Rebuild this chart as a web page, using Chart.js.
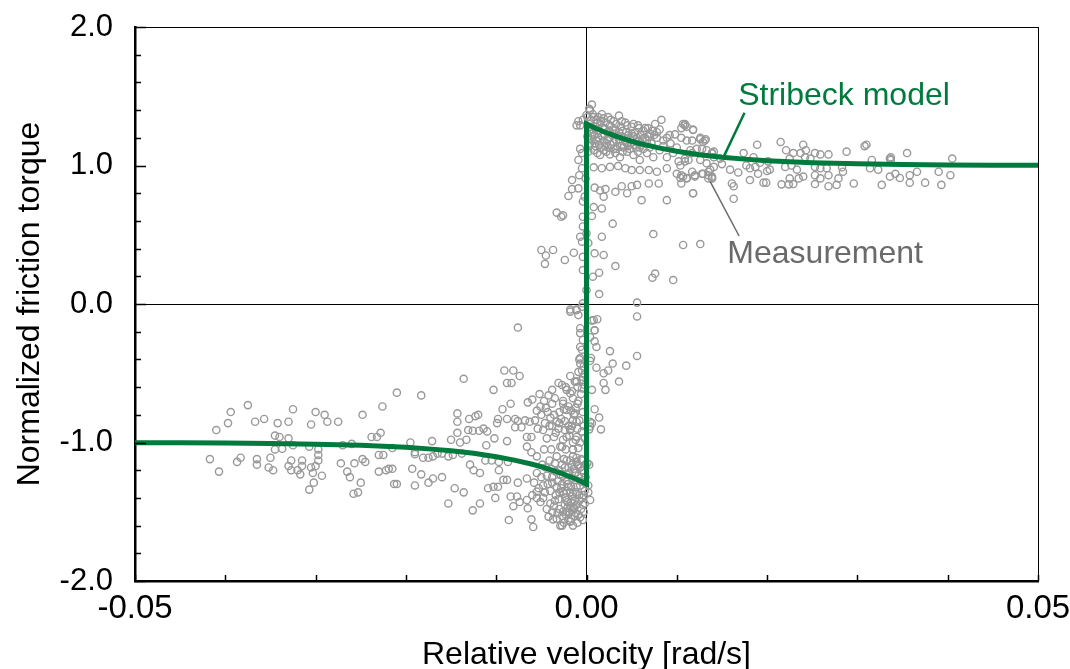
<!DOCTYPE html>
<html>
<head>
<meta charset="utf-8">
<script src="https://cdn.jsdelivr.net/npm/chart.js@4.4.1/dist/chart.umd.min.js"></script>
<style>
  html, body { margin: 0; padding: 0; background: #fff; }
  #wrap { width: 1070px; height: 669px; }
</style>
</head>
<body>
<div id="wrap"><canvas id="myChart" width="1070" height="669"></canvas></div>
<script>
// Stribeck model curve (velocity, torque)
const modelX = [-0.050, -0.045, -0.040, -0.035, -0.030, -0.025, -0.020, -0.0175, -0.015, -0.0125, -0.010, -0.008, -0.006, -0.005, -0.004, -0.003, -0.002, -0.001, 0,
                0, 0.001, 0.002, 0.003, 0.004, 0.005, 0.006, 0.008, 0.010, 0.0125, 0.015, 0.0175, 0.020, 0.025, 0.030, 0.035, 0.040, 0.045, 0.050];
const modelY = [-1.001, -1.002, -1.004, -1.007, -1.012, -1.020, -1.035, -1.046, -1.060, -1.078, -1.103, -1.127, -1.157, -1.175, -1.195, -1.217, -1.242, -1.269, -1.300,
                1.300, 1.269, 1.242, 1.217, 1.195, 1.175, 1.157, 1.127, 1.103, 1.078, 1.060, 1.046, 1.035, 1.020, 1.012, 1.007, 1.004, 1.002, 1.001];

// measured points, negative velocity tail
const measLeftTail = [[-0.0210,-0.64],[-0.0226,-0.74],[-0.0248,-0.80],[-0.0375,-0.73],[-0.0394,-0.78],[-0.0397,-0.86],[-0.0410,-0.91],[-0.0325,-0.76],[-0.0300,-0.78],[-0.0290,-0.80],[-0.0287,-0.85],[-0.0275,-0.85],[-0.0305,-0.87],[-0.0330,-0.85],[-0.0342,-0.86],[-0.0357,-0.83],[-0.0367,-0.85],[-0.0345,-0.95],[-0.0340,-0.96],[-0.0330,-0.97],[-0.0228,-0.93],[-0.0238,-0.96],[-0.0232,-0.96],[-0.0417,-1.12],[-0.0407,-1.21],[-0.0387,-1.14],[-0.0383,-1.11],[-0.0365,-1.12],[-0.0365,-1.16],[-0.0352,-1.18],[-0.0347,-1.20],[-0.0350,-1.11],[-0.0345,-1.05],[-0.0337,-1.045],[-0.0327,-1.13],[-0.0330,-1.17],[-0.0327,-1.20],[-0.0315,-1.13],[-0.0315,-1.17],[-0.0320,-1.20],[-0.0317,-1.23],[-0.0307,-1.03],[-0.0297,-1.05],[-0.0297,-1.09],[-0.0297,-1.13],[-0.0300,-1.17],[-0.0305,-1.18],[-0.0303,-1.22],[-0.0302,-1.29],[-0.0307,-1.34],[-0.0293,-1.24],[-0.0272,-1.15],[-0.0265,-1.21],[-0.0262,-1.25],[-0.0257,-1.15],[-0.0248,-1.12],[-0.0245,-1.14],[-0.0250,-1.29],[-0.0258,-1.37],[-0.0253,-1.36],[-0.0230,-1.09],[-0.0225,-1.09],[-0.0230,-1.21],[-0.0222,-1.20],[-0.0219,-1.19],[-0.0215,-1.19],[-0.0213,-1.30],[-0.0210,-1.30],[-0.0215,-1.04],[-0.0270,-1.02],[-0.0260,-1.01],[-0.0325,-1.02]];

// measured points, negative velocity near zero
const measLeftNear = [[-0.0183,-0.66],[-0.0136,-0.54],[-0.0103,-0.62],[-0.0091,-0.48],[-0.0081,-0.48],[-0.0074,-0.52],[-0.0088,-0.57],[-0.0083,-0.57],[-0.0065,-0.71],[-0.0060,-0.69],[-0.0052,-0.65],[-0.0042,-0.66],[-0.0038,-0.62],[-0.0031,-0.57],[-0.0023,-0.60],[-0.0016,-0.63],[-0.0013,-0.56],[-0.0002,-0.51],[-0.0084,-0.72],[-0.0093,-0.76],[-0.0098,-0.83],[-0.0099,-0.86],[-0.0088,-0.83],[-0.0079,-0.83],[-0.0076,-0.845],[-0.0068,-0.84],[-0.0063,-0.85],[-0.0055,-0.77],[-0.0051,-0.74],[-0.0143,-0.79],[-0.0143,-0.85],[-0.0143,-0.93],[-0.0130,-0.83],[-0.0123,-0.81],[-0.0120,-0.80],[-0.0131,-0.91],[-0.0126,-0.915],[-0.0119,-0.915],[-0.0114,-0.90],[-0.0110,-0.92],[-0.0150,-0.98],[-0.0140,-1.00],[-0.0133,-0.98],[-0.0171,-0.99],[-0.0195,-1.00],[-0.0111,-1.02],[-0.0102,-0.97],[-0.0088,-0.99],[-0.0079,-0.89],[-0.0072,-0.89],[-0.0066,-0.96],[-0.0061,-0.96],[-0.0054,-0.90],[-0.0048,-0.91],[-0.0041,-0.88],[-0.0036,-0.96],[-0.0031,-0.90],[-0.0024,-0.845],[-0.0018,-0.905],[-0.0011,-0.85],[-0.0005,-0.92],[0.0003,-0.905],[0.0006,-0.86],
  [-0.0190,-1.07],[-0.0190,-1.085],[-0.0181,-1.11],[-0.0175,-1.11],[-0.0170,-1.10],[-0.0165,-1.08],[-0.0160,-1.08],[-0.0153,-1.10],[-0.0148,-1.09],[-0.0138,-1.08],[-0.0193,-1.19],[-0.0183,-1.23],[-0.0190,-1.31],[-0.0175,-1.29],[-0.0170,-1.26],[-0.0160,-1.25],[-0.0129,-1.16],[-0.0125,-1.20],[-0.0118,-1.22],[-0.0112,-1.13],[-0.0105,-1.13],[-0.0097,-1.14],[-0.0097,-1.20],[-0.0087,-1.14],[-0.0066,-1.03],[-0.0061,-1.07],[-0.0055,-1.10],[-0.0047,-1.05],[-0.0039,-1.05],[-0.0029,-1.03],[-0.0023,-1.05],[-0.0015,-1.05],
  [-0.0146,-1.33],[-0.0136,-1.36],[-0.0153,-1.44],[-0.0118,-1.44],[-0.0126,-1.49],[-0.0109,-1.33],[-0.0103,-1.32],[-0.0098,-1.32],[-0.0092,-1.27],[-0.0088,-1.27],[-0.0076,-1.29],[-0.0066,-1.26],[-0.0101,-1.40],[-0.0084,-1.39],[-0.0077,-1.39],[-0.0074,-1.43],[-0.0081,-1.46],[-0.0066,-1.415],[-0.0065,-1.475],[-0.0055,-1.355],[-0.0055,-1.40],[-0.0051,-1.43],[-0.0086,-1.56],[-0.0061,-1.555],[-0.0059,-1.61],[-0.0042,-1.535],[-0.0037,-1.555],[-0.0029,-1.60],[-0.0018,-1.57],[-0.0015,-1.475],[-0.0012,-1.51],
  [-0.0035,-1.15],[-0.0030,-1.20],[-0.0025,-1.12],[-0.0020,-1.18],[-0.0015,-1.10],[-0.0010,-1.16],[-0.0005,-1.13],[-0.0038,-1.25],[-0.0032,-1.28],[-0.0026,-1.24],[-0.0021,-1.30],[-0.0016,-1.26],[-0.0011,-1.32],[-0.0006,-1.28],[-0.0003,-1.22],[-0.0040,-1.35],[-0.0034,-1.38],[-0.0028,-1.33],[-0.0023,-1.40],[-0.0018,-1.36],[-0.0013,-1.42],[-0.0008,-1.38],[-0.0004,-1.45],[-0.0036,-1.46],[-0.0030,-1.48],[-0.0024,-1.45],[-0.0019,-1.50],[-0.0014,-1.47],[-0.0009,-1.52],[-0.0005,-1.40],[-0.0027,-1.53],[-0.0020,-1.56],[-0.0010,-1.58],[-0.0045,-1.18],[-0.0043,-1.30],[-0.0050,-1.25],[-0.0048,-1.40],[-0.0044,-1.48],[-0.0053,-1.33],[-0.0033,-1.10],[-0.0002,-1.35],[-0.0001,-1.25],[-0.0003,-1.50],[-0.0012,-1.22],[-0.0022,-1.35],[-0.0031,-1.41],[-0.0017,-1.43],[-0.0007,-1.18],
  [-0.0045,-0.75],[-0.0038,-0.72],[-0.0030,-0.78],[-0.0026,-0.70],[-0.0020,-0.74],[-0.0015,-0.68],[-0.0010,-0.72],[-0.0006,-0.65],[-0.0004,-0.78],[-0.0040,-0.82],[-0.0033,-0.85],[-0.0028,-0.83],[-0.0020,-0.88],[-0.0014,-0.80],[-0.0008,-0.84],[-0.0003,-0.88],[-0.0019,-0.95],[-0.0012,-0.98],[-0.0007,-1.00],[-0.0002,-0.97],[-0.0010,-0.60],[-0.0005,-0.55],[-0.0003,-0.45],[-0.0008,-0.40],[-0.0018,-0.52]];

// extra points in the dense cluster below the model's lower corner
const measDenseLower = [[-0.0004,-1.20],[-0.0009,-1.24],[-0.0014,-1.19],[-0.0019,-1.22],[-0.0024,-1.18],[-0.0029,-1.23],[-0.0034,-1.21],[-0.0039,-1.19],[-0.0002,-1.29],[-0.0007,-1.31],[-0.0012,-1.27],[-0.0017,-1.32],[-0.0022,-1.28],[-0.0027,-1.30],[-0.0033,-1.32],[-0.0038,-1.29],[-0.0044,-1.24],[-0.0003,-1.38],[-0.0008,-1.42],[-0.0012,-1.36],[-0.0016,-1.39],[-0.0021,-1.43],[-0.0025,-1.37],[-0.0030,-1.36],[-0.0035,-1.42],[-0.0040,-1.44],[-0.0046,-1.36],[-0.0002,-1.44],[-0.0006,-1.48],[-0.0011,-1.45],[-0.0016,-1.49],[-0.0021,-1.47],[-0.0026,-1.50],[-0.0032,-1.51],[-0.0038,-1.50],[-0.0007,-1.54],[-0.0013,-1.53],[-0.0017,-1.55],[-0.0023,-1.52],[-0.0033,-1.55],[-0.0004,-1.56],[-0.0015,-1.60],[-0.0025,-1.58],[-0.0001,-1.16],[-0.0006,-1.12],[-0.0011,-1.14],[-0.0016,-1.16],[-0.0022,-1.13],[-0.0027,-1.16],[-0.0041,-1.13],[-0.0049,-1.16],[-0.0055,-1.22],[-0.0058,-1.29],[-0.0060,-1.38],[-0.0048,-1.31],
  [-0.0050,-0.80],[-0.0043,-0.78],[-0.0036,-0.80],[-0.0025,-0.76],[-0.0017,-0.77],[-0.0012,-0.75],[-0.0046,-0.86],[-0.0038,-0.88],[-0.0030,-0.86],[-0.0024,-0.91],[-0.0016,-0.88],[-0.0010,-0.90],[-0.0034,-0.93],[-0.0026,-0.98],[-0.0015,-1.00],[-0.0044,-0.97],[-0.0057,-0.84],[-0.0009,-0.70],[-0.0035,-0.68],[-0.0047,-0.70]];

// measured points around the jump at zero velocity
const measZero = [[0.0056,0.01],[0.0056,-0.09],[0.0056,-0.375],[-0.0018,-0.055],[-0.0011,-0.045],[-0.0009,-0.08],[-0.0005,-0.02],[0.0006,-0.12],[0.0012,-0.11],[0.0009,-0.19],[0.0004,-0.24],[0.0009,-0.27],[0.0011,-0.31],[0.0005,-0.39],[0.0004,-0.41],[0.0011,-0.46],[0.0019,-0.50],[0.0024,-0.48],[0.0026,-0.34],[0.0029,-0.43],[0.0044,-0.445],[0.0036,-0.56],[0.0019,-0.57],[0.0021,-0.62],[0.0006,-0.62],[0.0009,-0.76],[0.0014,-0.82],[0.0016,-0.905],[0.0004,-0.85],[0.0004,-0.885],
  [-0.0007,-0.31],[-0.0007,-0.39],[-0.0005,-0.48],[-0.0011,-0.56],[-0.0022,-0.62],[-0.0018,-0.645],[-0.0027,-0.585],[-0.0026,-0.72],[-0.0022,-0.765],[-0.0013,-0.79],[-0.0015,-0.84],[-0.0018,-0.91],[-0.0022,-0.96],[-0.0011,-0.96],[-0.0009,-1.04],[-0.0015,-1.05],[-0.0027,-1.03],[-0.0018,-1.13],[-0.0011,-1.11],[-0.0009,-1.17],[-0.0013,-1.22],[-0.0022,-1.23],[-0.0020,-1.32],[-0.0026,-1.355],[-0.0015,-1.37],[-0.0022,-1.415],[-0.0018,-1.46],[-0.0022,-1.50],[-0.0018,-1.57],[-0.0027,-1.60],
  [0.0002,-1.31],[0.0002,-1.36],[0.0004,-1.415],[0.0001,-1.15],[0.0003,-1.16],
  [-0.0007,-0.175],[-0.0007,-0.21],[-0.0004,-0.26],[-0.0005,-0.33],[-0.0007,-0.43],[-0.0009,-0.49],[-0.0004,-0.525],[-0.0011,-0.56],[-0.0002,-0.585],[-0.0005,-0.61],
  [-0.0016,0.895],[-0.0009,0.835],[-0.0001,0.907],[0.0009,0.84],[0.0015,0.82],[0.0019,0.775],[0.0021,0.83],[0.0032,0.81],[0.0039,0.85],[0.0045,0.80],[0.0050,0.85],[0.0056,0.86],[0.0061,0.75],[0.0069,0.87],[0.0080,0.87],[0.0089,0.75],[0.0118,0.80],[-0.0004,0.74],[0.0008,0.70],[0.0006,0.635],[0.0017,0.69],[0.0029,0.58],[-0.0004,0.56],[-0.0007,0.486],[0.0002,0.44],[0.0017,0.486],[0.0009,0.366],[0.0019,0.354],[0.0032,0.274],[-0.0024,0.318],[-0.0028,0.63],[-0.0005,0.45],[0.0000,0.51],[-0.0004,0.34],[-0.0004,0.245],[0.0007,0.197],[0.0014,0.226],[0.0014,0.072],[0.0074,0.505],[0.0076,0.22],[0.0073,0.19],[0.0096,0.173],[0.0107,0.426],[0.0126,0.433],[0.0008,-0.115],[0.0009,-0.19],
  [-0.0050,0.39],[-0.0045,0.35],[-0.0037,0.39],[-0.0046,0.29],[-0.0033,0.66],[-0.0026,0.64],[-0.0076,-0.17],[-0.0016,0.83],[-0.0020,0.78],[-0.0014,0.37],
  [-0.0007,1.12],[-0.0005,1.09],[-0.0009,1.04],[-0.0005,0.98],[-0.0008,0.93],[-0.0002,0.775],[-0.0004,0.63],[0.0000,0.10],[-0.0004,0.005],[-0.0011,-0.04],[-0.0018,-0.04]];

// measured points, positive velocity near zero
const measRightNear = [[0.0006,1.44],[0.0004,1.40],[0.0000,1.365],[-0.0004,1.33],[-0.0009,1.32],[-0.0011,1.29],[-0.0007,1.29],[0.0008,1.35],[0.0013,1.35],[0.0019,1.34],[0.0024,1.35],[0.0030,1.32],[0.0036,1.36],[0.0043,1.31],[0.0050,1.28],[0.0057,1.29],[0.0065,1.27],[0.0070,1.23],[0.0076,1.30],[0.0083,1.33],[0.0078,1.24],[0.0081,1.26],[0.0089,1.20],[0.0098,1.225],[0.0107,1.30],[0.0109,1.29],[0.0118,1.26],[0.0105,1.20],[0.0111,1.18],[0.0117,1.18],[0.0126,1.20],[0.0129,1.17],[0.0132,1.19],[0.0139,1.09],
  [0.0006,1.23],[0.0011,1.18],[0.0017,1.21],[0.0022,1.16],[0.0028,1.22],[0.0033,1.18],[0.0039,1.21],[0.0045,1.16],[0.0050,1.23],[0.0056,1.20],[0.0061,1.15],[0.0067,1.18],[0.0072,1.16],[0.0078,1.20],[0.0008,1.11],[0.0015,1.076],[0.0022,1.10],[0.0030,1.12],[0.0037,1.06],[0.0045,1.10],[0.0052,1.076],[0.0059,1.04],[0.0067,1.09],[0.0074,1.06],[0.0081,1.11],[0.0089,1.06],[0.0096,1.09],[0.0102,1.03],[0.0109,1.05],[0.0117,1.09],[0.0126,1.04],[0.0133,1.016],[0.0141,1.06],[0.0148,1.05],
  [0.0008,0.987],[0.0017,0.98],[0.0026,0.99],[0.0035,0.996],[0.0043,0.98],[0.0050,0.967],[0.0059,0.967],[0.0069,0.967],[0.0078,0.955],[0.0089,0.98],[0.0100,0.94],[0.0105,0.93],[0.0111,0.91],[0.0105,0.87],[0.0104,0.91],[0.0117,0.955],[0.0120,0.93],[0.0129,0.94],[0.0139,0.92],[0.0135,0.955],[0.0139,0.91],
  [0.0003,1.30],[0.0010,1.28],[0.0015,1.30],[0.0020,1.27],[0.0026,1.29],[0.0032,1.26],[0.0038,1.28],[0.0044,1.24],[0.0003,1.25],[0.0009,1.22],[0.0014,1.25],[0.0020,1.22],[0.0025,1.25],[0.0031,1.23],[0.0036,1.24],[0.0042,1.20],[0.0048,1.19],[0.0054,1.24],[0.0060,1.22],[0.0065,1.20],[0.0004,1.16],[0.0010,1.14],[0.0016,1.13],[0.0024,1.13],[0.0034,1.14],[0.0041,1.13],[0.0048,1.12],[0.0055,1.13],[0.0063,1.12],[0.0070,1.13],[0.0002,1.19],[0.0012,1.31],[0.0005,1.33],[0.0017,1.37],[0.0003,1.41]];

// extra points in the dense cluster above the model's upper corner
const measDenseUpper = [[0.0001,1.35],[0.0007,1.37],[0.0011,1.33],[0.0016,1.32],[0.0021,1.31],[0.0027,1.33],[0.0033,1.30],[0.0039,1.32],[0.0045,1.29],[0.0052,1.30],[0.0058,1.27],[0.0063,1.25],[0.0068,1.27],[0.0073,1.25],[0.0002,1.27],[0.0007,1.26],[0.0012,1.23],[0.0018,1.27],[0.0023,1.24],[0.0029,1.26],[0.0035,1.21],[0.0040,1.25],[0.0046,1.22],[0.0052,1.21],[0.0057,1.18],[0.0062,1.19],[0.0069,1.21],[0.0075,1.22],[0.0001,1.21],[0.0006,1.19],[0.0013,1.20],[0.0019,1.18],[0.0024,1.19],[0.0030,1.17],[0.0036,1.19],[0.0043,1.17],[0.0049,1.16],[0.0055,1.17],[0.0003,1.14],[0.0009,1.16],[0.0014,1.15],[0.0020,1.14],[0.0027,1.15],[0.0033,1.12],[0.0039,1.14],[0.0046,1.14],[0.0053,1.15],[0.0059,1.13],[0.0002,1.10],[0.0012,1.09],[0.0019,1.11],[0.0026,1.08],[0.0032,1.09],[0.0040,1.10],[0.0057,1.10],[0.0085,1.18],[0.0093,1.16],[0.0100,1.13],[0.0092,1.22],[0.0085,1.14]];

// measured points, positive velocity tail
const measRightTail = [[0.0109,1.30],[0.0118,1.256],[0.0105,1.27],[0.0111,1.28],[0.0126,1.19],[0.0131,1.18],[0.0115,1.11],[0.0122,1.12],[0.0128,1.12],[0.0133,1.11],[0.0139,1.09],[0.0141,1.10],[0.0104,1.00],[0.0109,1.03],[0.0113,1.04],[0.0107,0.92],[0.0111,0.907],[0.0120,0.92],[0.0128,0.94],[0.0135,0.93],[0.0137,0.97],[0.0141,0.99],[0.0139,0.907],[0.0135,0.907],[0.0118,0.80],[0.0150,1.01],[0.0159,0.97],[0.0168,0.95],[0.0161,0.87],[0.0163,0.85],[0.0163,0.76],[0.0174,1.09],[0.0185,1.06],[0.0189,1.15],[0.0181,0.895],[0.0190,0.94],[0.0196,0.876],[0.0199,0.876],[0.0177,1.00],[0.0181,0.98],[0.0187,0.99],[0.0192,1.02],[0.0201,1.03],[0.0203,0.97],[0.0200,0.96],
  [0.0215,1.17],[0.0221,1.11],[0.0225,1.05],[0.0229,1.09],[0.0220,0.99],[0.0227,1.00],[0.0233,0.97],[0.0225,0.907],[0.0235,0.907],[0.0240,0.92],[0.0216,0.864],[0.0224,0.864],[0.0229,0.866],[0.0240,1.15],[0.0243,1.11],[0.0237,1.09],[0.0242,1.06],[0.0248,1.05],[0.0253,1.09],[0.0259,1.08],[0.0268,1.08],[0.0253,0.99],[0.0259,0.98],[0.0266,0.98],[0.0253,0.93],[0.0259,0.907],[0.0268,0.93],[0.0268,0.85],[0.0277,0.86],[0.0279,0.907],[0.0284,0.955],[0.0283,0.987],[0.0288,1.10],[0.0296,0.87],[0.0253,0.866],
  [0.0308,1.14],[0.0310,1.15],[0.0316,1.04],[0.0314,0.98],[0.0323,0.97],[0.0327,0.86],[0.0337,1.06],[0.0337,1.04],[0.0336,0.92],[0.0342,0.94],[0.0347,0.91],[0.0355,1.09],[0.0358,0.93],[0.0358,0.876],[0.0366,0.955],[0.0375,0.876],[0.0390,0.955],[0.0393,0.86],[0.0403,0.93],[0.0405,1.05],[0.0336,1.05]];

const measurement = [].concat(measLeftTail, measLeftNear, measDenseLower, measZero, measRightNear, measDenseUpper, measRightTail);

// callout labels: text, anchor of text (x, baseline y) and leader line ends, in data units
const labelText = ['Stribeck model', 'Measurement'];
const labelColors = ['#007a3d', '#6a6a6a'];
const labelAt = [[0.0168, 1.437], [0.0156, 0.296]];
const leaderFrom = [[0.0175, 1.381], [0.0137, 0.883]];
const leaderTo = [[0.0152, 1.064], [0.0169, 0.491]];

const greenColor = '#007a3d';
const pointGrey = '#999999';
const fontFam = '"Liberation Sans", Arial, Helvetica, sans-serif';

const axisDecor = {
    id: 'axisDecor',
    afterDatasetsDraw(chart) {
        const ctx = chart.ctx;
        const area = chart.chartArea;
        const xs = chart.scales.x;
        const ys = chart.scales.y;
        ctx.save();
        ctx.strokeStyle = '#000';
        // thin top and right frame
        ctx.lineWidth = 1;
        ctx.beginPath();
        ctx.moveTo(area.left, area.top + 0.5);
        ctx.lineTo(area.right, area.top + 0.5);
        ctx.moveTo(area.right + 0.5, area.top);
        ctx.lineTo(area.right + 0.5, area.bottom);
        ctx.stroke();
        // inward tick marks
        ctx.lineWidth = 1.5;
        ctx.beginPath();
        xs.ticks.forEach(t => {
            const px = Math.round(xs.getPixelForValue(t.value)) + 0.5;
            ctx.moveTo(px, area.bottom);
            ctx.lineTo(px, area.bottom - 6);
        });
        ys.ticks.forEach(t => {
            const py = Math.round(ys.getPixelForValue(t.value)) + 0.5;
            const major = Math.abs(t.value - Math.round(t.value)) < 1e-6;
            ctx.moveTo(area.left, py);
            ctx.lineTo(area.left + (major ? 11 : 6), py);
        });
        ctx.stroke();
        // callouts
        ctx.font = '32px ' + fontFam;
        ctx.textBaseline = 'alphabetic';
        ctx.textAlign = 'left';
        labelText.forEach((txt, i) => {
            ctx.strokeStyle = labelColors[i];
            ctx.lineWidth = i === 0 ? 2.5 : 1.5;
            ctx.beginPath();
            ctx.moveTo(xs.getPixelForValue(leaderFrom[i][0]), ys.getPixelForValue(leaderFrom[i][1]));
            ctx.lineTo(xs.getPixelForValue(leaderTo[i][0]), ys.getPixelForValue(leaderTo[i][1]));
            ctx.stroke();
            ctx.fillStyle = labelColors[i];
            ctx.fillText(txt, xs.getPixelForValue(labelAt[i][0]), ys.getPixelForValue(labelAt[i][1]));
        });
        ctx.restore();
    }
};

const ctx = document.getElementById('myChart').getContext('2d');
new Chart(ctx, {
    type: 'scatter',
    data: {
        datasets: [{
            label: 'Stribeck model',
            data: modelX.map((x, i) => ({ x: x, y: modelY[i] })),
            showLine: true,
            borderColor: greenColor,
            borderWidth: 5,
            pointRadius: 0,
            tension: 0,
            order: 0
        }, {
            label: 'Measurement',
            data: measurement.map(p => ({ x: p[0], y: p[1] })),
            showLine: false,
            pointRadius: 3.6,
            pointBorderWidth: 1.4,
            borderColor: pointGrey,
            backgroundColor: 'rgba(0,0,0,0)',
            order: 1
        }]
    },
    options: {
        responsive: false,
        animation: false,
        layout: { padding: { top: 27, right: 32, left: 0, bottom: 0 } },
        plugins: {
            legend: { display: false },
            tooltip: { enabled: false }
        },
        scales: {
            x: {
                type: 'linear',
                min: -0.05,
                max: 0.05,
                afterFit: s => { s.height = 88; s.paddingLeft = 0; s.paddingRight = 0; },
                border: { display: true, color: '#000', width: 2.5 },
                grid: {
                    drawTicks: false,
                    color: c => (c.tick && Math.abs(c.tick.value) < 1e-9) ? '#000' : 'rgba(0,0,0,0)',
                    lineWidth: 1
                },
                ticks: {
                    stepSize: 0.01,
                    autoSkip: false,
                    maxRotation: 0,
                    padding: 8,
                    color: '#000',
                    font: { family: fontFam, size: 33 },
                    callback: v => {
                        const r = Math.round(v * 100);
                        return r % 5 === 0 ? (r / 100).toFixed(2) : '';
                    }
                },
                title: {
                    display: true,
                    text: 'Relative velocity [rad/s]',
                    color: '#000',
                    font: { family: fontFam, size: 32, lineHeight: 1 },
                    padding: { top: 0, bottom: -2 }
                }
            },
            y: {
                type: 'linear',
                min: -2,
                max: 2,
                afterFit: s => { s.width = 135; s.paddingTop = 0; s.paddingBottom = 0; },
                border: { display: true, color: '#000', width: 2.5 },
                grid: {
                    drawTicks: false,
                    color: c => (c.tick && Math.abs(c.tick.value) < 1e-9) ? '#000' : 'rgba(0,0,0,0)',
                    lineWidth: 1
                },
                ticks: {
                    stepSize: 0.2,
                    autoSkip: false,
                    padding: 22,
                    color: '#000',
                    font: { family: fontFam, size: 31 },
                    callback: v => {
                        const r = Math.round(v * 10);
                        return r % 10 === 0 ? (r / 10).toFixed(1) : '';
                    }
                },
                title: {
                    display: true,
                    text: 'Normalized friction torque',
                    color: '#000',
                    font: { family: fontFam, size: 32, lineHeight: 1 },
                    padding: { top: 14, bottom: 0 }
                }
            }
        }
    },
    plugins: [axisDecor]
});
</script>
</body>
</html>
